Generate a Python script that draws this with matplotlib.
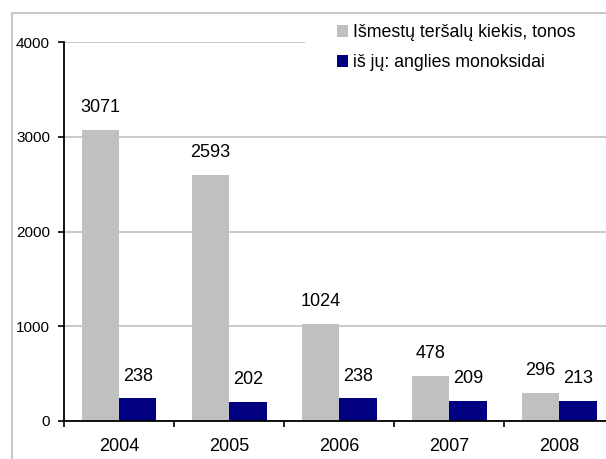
import matplotlib.pyplot as plt
from matplotlib.patches import Rectangle
import numpy as np

plt.rcParams['font.family'] = ['Liberation Sans', 'DejaVu Sans']

# Duomenys
years = ['2004', '2005', '2006', '2007', '2008']
total_emissions = [3071, 2593, 1024, 478, 296]
carbon_monoxide = [238, 202, 238, 209, 213]
series_names = ['Išmestų teršalų kiekis, tonos', 'iš jų: anglies monoksidai']

W, H, DPI = 606, 459, 100
fig = plt.figure(figsize=(W / DPI, H / DPI), dpi=DPI)

# axes placed in pixel terms (the right end runs past the figure edge)
left, right, top, bottom = 64, 614.5, 42, 421
ax = fig.add_axes([left / W, 1 - bottom / H, (right - left) / W, (bottom - top) / H])

x = np.arange(len(years))
bw = 0.34
bars1 = ax.bar(x - bw / 2, total_emissions, bw, color='#c0c0c0', label=series_names[0], zorder=2)
bars2 = ax.bar(x + bw / 2, carbon_monoxide, bw, color='#000080', label=series_names[1], zorder=2)

for bars, vals in ((bars1, total_emissions), (bars2, carbon_monoxide)):
    for b, v in zip(bars, vals):
        ax.annotate(str(v), (b.get_x() + b.get_width() / 2, v), xytext=(0, 10),
                    textcoords='offset points', ha='center', va='bottom', fontsize=13)

ax.set_xlim(-0.5, len(years) - 0.5)
ax.set_ylim(0, 4000)
ax.set_yticks([0, 1000, 2000, 3000, 4000])
ax.yaxis.grid(True, color='#c0c0c0', linewidth=1.2, zorder=0)
ax.set_axisbelow(True)

# year labels without marks, separators between categories
ax.set_xticks(x)
ax.set_xticklabels(years, fontsize=13)
ax.set_xticks(np.arange(-0.5, len(years) + 0.5, 1), minor=True)
ax.tick_params(axis='x', which='major', length=0, pad=12.5)
ax.tick_params(axis='x', which='minor', length=4.5, width=1.2, direction='out')
ax.tick_params(axis='y', length=4.5, width=1.2, pad=5.5, labelsize=11)

for s in ('top', 'right'):
    ax.spines[s].set_visible(False)
for s in ('left', 'bottom'):
    ax.spines[s].set_linewidth(1.3)
    ax.spines[s].set_color('black')

leg = fig.legend(loc='upper left', bbox_to_anchor=(305 / W, 1 + 8 / H), borderaxespad=0,
                 fontsize=12.8, frameon=True, facecolor='white', edgecolor='none',
                 framealpha=1, fancybox=False, borderpad=1.8, handlelength=0.62,
                 handleheight=0.62, handletextpad=0.3, labelspacing=0.75)

# outer chart border
fig.patches.append(Rectangle((12 / W, -0.1), 1.2, 1 - 13 / H + 0.1, transform=fig.transFigure,
                             fill=False, edgecolor='#c8c8c8', linewidth=1.5, zorder=10))

fig.savefig('out.png', dpi=DPI)
